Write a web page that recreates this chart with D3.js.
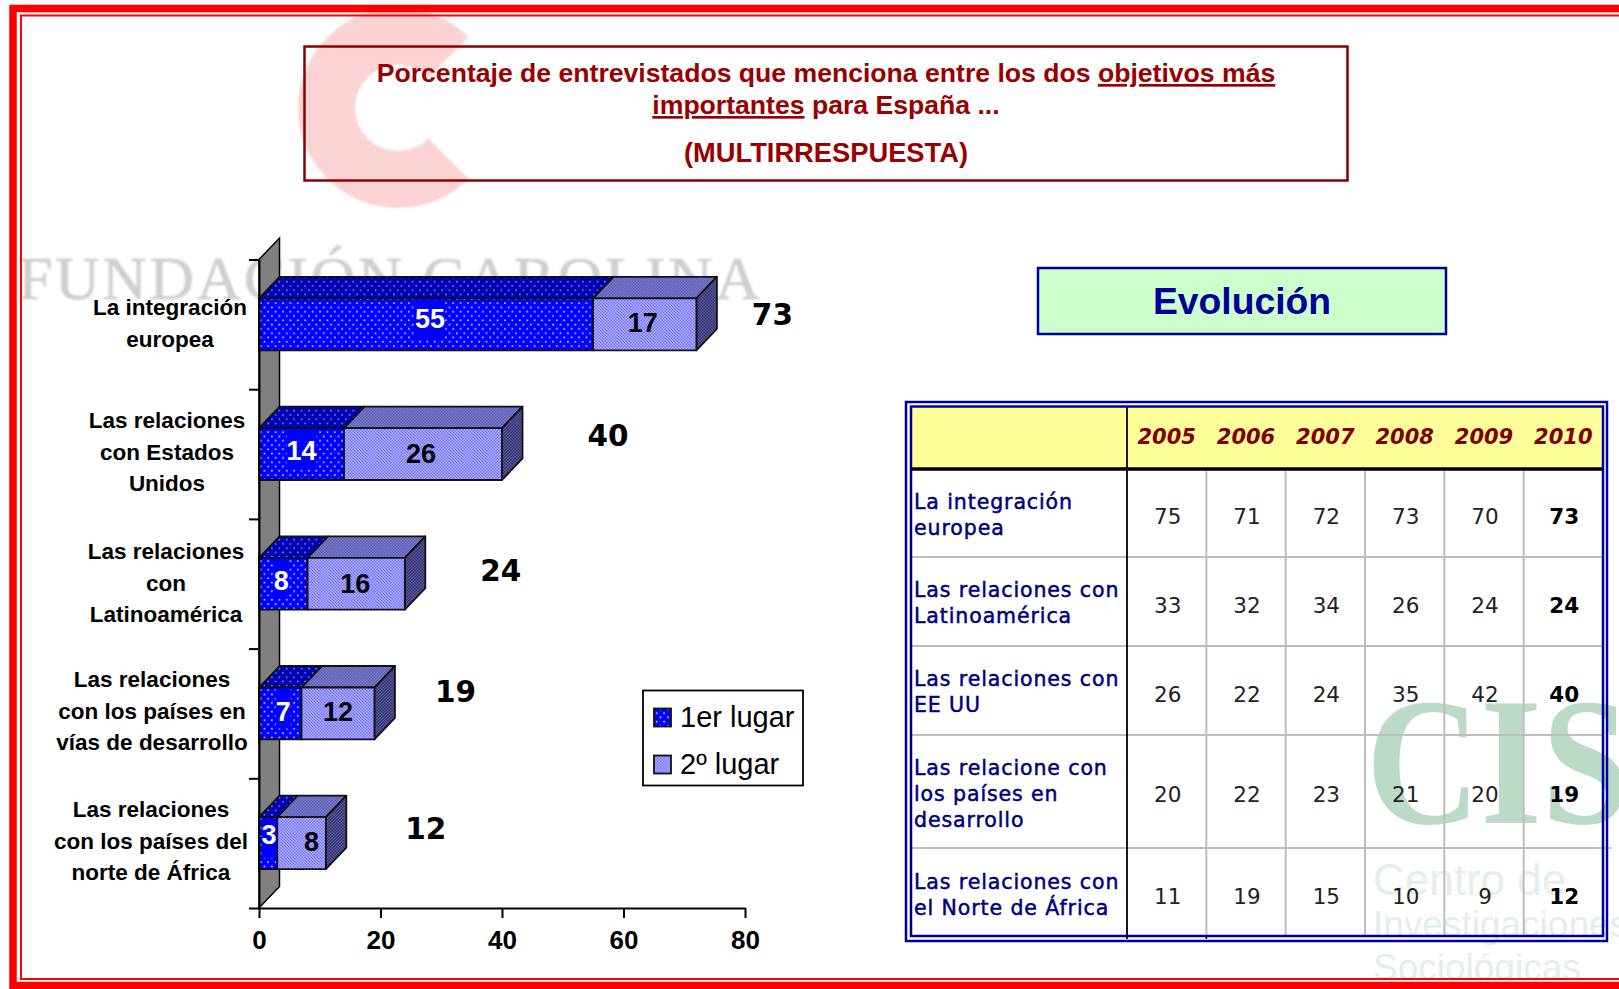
<!DOCTYPE html>
<html lang="es">
<head>
<meta charset="utf-8">
<title>Objetivos más importantes para España</title>
<script src="https://cdnjs.cloudflare.com/ajax/libs/d3/7.8.5/d3.min.js"></script>
<style>
  html, body { margin: 0; padding: 0; background: #fff; overflow: hidden; }
  svg { display: block; }
  text { font-family: "Liberation Sans", Arial, sans-serif; }
  .verdana { font-family: "DejaVu Sans", Verdana, sans-serif; }
</style>
</head>
<body>
<svg id="chart" width="1619" height="989"></svg>
<script>
// chart data
const categories = [
  ['La integración', 'europea'],
  ['Las relaciones', 'con Estados', 'Unidos'],
  ['Las relaciones', 'con', 'Latinoamérica'],
  ['Las relaciones', 'con los países en', 'vías de desarrollo'],
  ['Las relaciones', 'con los países del', 'norte de África']
];
const primero = [55, 14, 8, 7, 3];
const segundo = [17, 26, 16, 12, 8];
const totales = [73, 40, 24, 19, 12];
const seriesNames = ['1er lugar', '2º lugar'];
const xTicks = [0, 20, 40, 60, 80];

// table data
const years = [2005, 2006, 2007, 2008, 2009, 2010];
const tableLabels = [
  ['La integración', 'europea'],
  ['Las relaciones con', 'Latinoamérica'],
  ['Las relaciones con', 'EE UU'],
  ['Las relacione con', 'los países en', 'desarrollo'],
  ['Las relaciones con', 'el Norte de África']
];
const tableValues = [
  [75, 71, 72, 73, 70, 73],
  [33, 32, 34, 26, 24, 24],
  [26, 22, 24, 35, 42, 40],
  [20, 22, 23, 21, 20, 19],
  [11, 19, 15, 10, 9, 12]
];

const svg = d3.select('#chart');
const defs = svg.append('defs');

const dotPattern = (id, bg, dot, opacity) => {
  const p = defs.append('pattern').attr('id', id)
    .attr('width', 7.4).attr('height', 8.6).attr('patternUnits', 'userSpaceOnUse');
  p.append('rect').attr('width', 7.4).attr('height', 8.6).attr('fill', bg);
  [[1.8, 2.1], [5.5, 6.4]].forEach(([cx, cy]) => {
    p.append('rect').attr('x', cx - 0.8).attr('y', cy - 0.8).attr('width', 1.6).attr('height', 1.6)
      .attr('fill', dot).attr('opacity', opacity);
  });
};
const finePattern = (id, a, b) => {
  const p = defs.append('pattern').attr('id', id)
    .attr('width', 3).attr('height', 3).attr('patternUnits', 'userSpaceOnUse');
  p.append('rect').attr('width', 3).attr('height', 3).attr('fill', a);
  p.append('rect').attr('width', 1.5).attr('height', 1.5).attr('fill', b);
  p.append('rect').attr('x', 1.5).attr('y', 1.5).attr('width', 1.5).attr('height', 1.5).attr('fill', b);
};
dotPattern('p1front', '#0000ff', '#dcdcff', 1);
dotPattern('p1top', '#0000b4', '#9c9ce0', 0.9);
dotPattern('p1side', '#00007c', '#7a7ac0', 0.9);
finePattern('p2front', '#b4b4ff', '#7070ff');
finePattern('p2top', '#7c7cd0', '#5a5ab0');
finePattern('p2side', '#5a5aa0', '#30306c');

defs.append('filter').attr('id', 'soft')
  .append('feGaussianBlur').attr('stdDeviation', 0.8);

// watermarks, they sit under everything
const marks = svg.append('g');
marks.append('path')
  .attr('transform', 'translate(398,108)')
  .attr('filter', 'url(#soft)')
  .attr('d', d3.arc().innerRadius(43).outerRadius(100).startAngle(-Math.PI * 1.25).endAngle(Math.PI * 0.25)())
  .attr('fill', '#fbd3d3');
marks.append('text')
  .attr('x', 18).attr('y', 299)
  .attr('textLength', 742).attr('lengthAdjust', 'spacing')
  .attr('filter', 'url(#soft)')
  .style('font-family', '"Liberation Serif", serif')
  .style('font-size', '62px')
  .attr('fill', '#cfcfcf').attr('stroke', '#cfcfcf').attr('stroke-width', 0.6)
  .text('FUNDACIÓN CAROLINA');
marks.append('text')
  .attr('transform', 'translate(1366,823) scale(0.93,1.07)')
  .style('font-family', '"Liberation Serif", serif')
  .style('font-size', '170px').style('font-weight', 'bold')
  .attr('fill', '#bcdac8')
  .text('CIS');
marks.append('rect').attr('x', 1306).attr('y', 847).attr('width', 306).attr('height', 2).attr('fill', '#bfd6c8');
[['Centro de', 895, 44], ['Investigaciones', 937, 37], ['Sociológicas', 980, 37]].forEach(([t, y, s]) => {
  marks.append('text').attr('x', 1373).attr('y', y)
    .style('font-size', `${s}px`).attr('fill', '#e4efe8').text(t);
});

// frame
const frame = svg.append('g').attr('fill', 'none').attr('stroke', '#ff0000');
frame.append('path').attr('d', 'M1619,8.5H13V985.5H1619').attr('stroke-width', 7.5);
frame.append('path').attr('d', 'M1619,15.5H21V979H1619').attr('stroke-width', 2);

// title box
const titleColor = '#990000';
svg.append('rect').attr('x', 304.5).attr('y', 46.5).attr('width', 1043).attr('height', 134)
  .attr('fill', 'none').attr('stroke', '#8b0000').attr('stroke-width', 2.5);
const title = svg.append('g').attr('text-anchor', 'middle').attr('fill', titleColor)
  .style('font-size', '26.6px').style('font-weight', 'bold');
const line1 = title.append('text').attr('x', 826).attr('y', 82);
line1.append('tspan').text('Porcentaje de entrevistados que menciona entre los dos ');
line1.append('tspan').attr('text-decoration', 'underline').text('objetivos más');
const line2 = title.append('text').attr('x', 826).attr('y', 114);
line2.append('tspan').attr('text-decoration', 'underline').text('importantes');
line2.append('tspan').text(' para España ...');
title.append('text').attr('x', 826).attr('y', 162).style('font-size', '27.3px').text('(MULTIRRESPUESTA)');

// 3d bar chart
const x = d3.scaleLinear().domain([0, 80]).range([259, 745]);
const yTop = 259.5;
const yBottom = 908;
const y = d3.scaleBand().domain(d3.range(categories.length)).range([yTop, yBottom])
  .paddingInner(0.6).paddingOuter(0.3);
const depthX = 20.5;
const depthY = 21.5;
const chart = svg.append('g');

chart.append('path')
  .attr('d', `M259,${yBottom}V${yTop}L${259 + depthX},${yTop - depthY}V${yBottom - depthY}Z`)
  .attr('fill', '#808080').attr('stroke', '#000').attr('stroke-width', 1.5);

const bars = chart.selectAll('g.bar').data(categories.map((c, i) => i)).enter()
  .append('g').attr('class', 'bar')
  .attr('stroke', '#111').attr('stroke-width', 1.8).attr('stroke-linejoin', 'round');

const box = (g, from, to, i, name, withSide) => {
  const x0 = x(from);
  const x1 = x(to);
  const top = y(i);
  const bottom = top + y.bandwidth();
  g.append('path').attr('fill', `url(#${name}top)`)
    .attr('d', `M${x0},${top}L${x0 + depthX},${top - depthY}H${x1 + depthX}L${x1},${top}Z`);
  if (withSide) {
    g.append('path').attr('fill', `url(#${name}side)`)
      .attr('d', `M${x1},${top}L${x1 + depthX},${top - depthY}V${bottom - depthY}L${x1},${bottom}Z`);
  }
  g.append('rect').attr('fill', `url(#${name}front)`)
    .attr('x', x0).attr('y', top).attr('width', x1 - x0).attr('height', bottom - top);
};
bars.each(function (i) {
  const g = d3.select(this);
  box(g, 0, primero[i], i, 'p1', false);
  box(g, primero[i], primero[i] + segundo[i], i, 'p2', true);
});

// value labels, nudged a bit off centre like the original
const firstNudge = [[4, -6], [0, -4], [-2, -3], [3, -2], [1, -9]];
const secondNudge = [[-2, -2], [-2, -1], [-1, 0], [0, -2], [10, -2]];
const labels = chart.append('g').attr('text-anchor', 'middle')
  .style('font-size', '27px').style('font-weight', 'bold');
primero.forEach((v, i) => {
  const cx = x(v / 2) + firstNudge[i][0];
  const cy = y(i) + y.bandwidth() / 2 + firstNudge[i][1];
  const w = String(v).length * 15;
  labels.append('rect').attr('x', cx - w / 2).attr('y', y(i) + 1).attr('width', w).attr('height', 40)
    .attr('fill', '#0000ff');
  labels.append('text').attr('x', cx).attr('y', cy).attr('dy', '0.36em').attr('fill', '#fff').text(v);
});
segundo.forEach((v, i) => {
  labels.append('text')
    .attr('x', x(primero[i] + v / 2) + secondNudge[i][0])
    .attr('y', y(i) + y.bandwidth() / 2 + secondNudge[i][1])
    .attr('dy', '0.36em').attr('fill', '#000').text(v);
});

// totals float to the right, hand placed in the original
const totalDx = [76, 106, 96, 81, 100];
const totalDy = [-10, -19, -13, -22, -15];
chart.append('g').attr('text-anchor', 'middle')
  .selectAll('text').data(totales).enter().append('text')
  .attr('class', 'verdana')
  .attr('x', (d, i) => x(primero[i] + segundo[i]) + totalDx[i])
  .attr('y', (d, i) => y(i) + y.bandwidth() / 2 + totalDy[i])
  .attr('dy', '0.36em')
  .style('font-size', '29.5px').style('font-weight', 'bold')
  .text(d => d);

// axes
const xAxis = chart.append('g').attr('transform', `translate(0,${yBottom})`)
  .call(d3.axisBottom(x).tickValues(xTicks).tickSize(10).tickSizeOuter(0).tickPadding(13));
xAxis.selectAll('text').style('font-size', '26px').style('font-weight', 'bold')
  .style('font-family', '"Liberation Sans", sans-serif').attr('fill', '#000');
xAxis.selectAll('line, path').attr('stroke', '#000').attr('stroke-width', 2);

const yTicks = d3.scaleLinear().domain([0, categories.length]).range([yTop, yBottom]);
const yAxis = chart.append('g').attr('transform', 'translate(259,0)')
  .call(d3.axisLeft(yTicks).ticks(categories.length).tickFormat('').tickSize(10).tickSizeOuter(0));
yAxis.selectAll('line, path').attr('stroke', '#000').attr('stroke-width', 2);

// category labels
const labelCx = [170, 167, 166, 152, 151];
const labelTop = [315, 428, 559, 687, 817];
chart.selectAll('text.cat').data(categories).enter().append('text')
  .attr('class', 'cat').attr('text-anchor', 'middle')
  .style('font-size', '22.5px').style('font-weight', 'bold')
  .each(function (lines, i) {
    d3.select(this).selectAll('tspan').data(lines).enter().append('tspan')
      .attr('x', labelCx[i]).attr('y', (d, k) => labelTop[i] + k * 31.5)
      .text(d => d);
  });

// legend
const legend = chart.append('g').attr('transform', 'translate(0,1.5)');
legend.append('rect').attr('x', 643).attr('y', 689).attr('width', 160).attr('height', 95)
  .attr('fill', '#fff').attr('stroke', '#000').attr('stroke-width', 1.8);
seriesNames.forEach((name, i) => {
  const ly = 707 + i * 47;
  legend.append('rect').attr('x', 654).attr('y', ly).attr('width', 17).attr('height', 18)
    .attr('fill', `url(#p${i + 1}front)`).attr('stroke', '#111').attr('stroke-width', 1.8);
  legend.append('text').attr('x', 680).attr('y', ly + 18)
    .style('font-size', '29px').attr('fill', '#000').text(name);
});

// evolution header
svg.append('rect').attr('x', 1038).attr('y', 268).attr('width', 408).attr('height', 66)
  .attr('fill', '#ccffcc').attr('stroke', '#000099').attr('stroke-width', 2.5);
svg.append('text').attr('x', 1242).attr('y', 314).attr('text-anchor', 'middle')
  .style('font-size', '37.3px').style('font-weight', 'bold').attr('fill', '#000099').text('Evolución');

// table
const table = svg.append('g').attr('class', 'table');
const xCol = d3.scaleBand().domain(years).range([1127, 1603]);
const rowEdges = [470, 557, 646, 735, 848, 936];
const grey = '#bdbdbd';

table.append('rect').attr('x', 912).attr('y', 407).attr('width', 690).attr('height', 61).attr('fill', '#ffff99');
years.forEach((yr, j) => {
  if (j > 0) {
    table.append('line').attr('x1', xCol(yr)).attr('x2', xCol(yr)).attr('y1', 470).attr('y2', 936)
      .attr('stroke', grey).attr('stroke-width', 2);
  }
});
rowEdges.slice(1, -1).forEach(e => {
  table.append('line').attr('x1', 912).attr('x2', 1602).attr('y1', e).attr('y2', e)
    .attr('stroke', grey).attr('stroke-width', 2);
});
table.append('line').attr('x1', 1127).attr('x2', 1127).attr('y1', 407).attr('y2', 939)
  .attr('stroke', '#000').attr('stroke-width', 1.8);
table.append('line').attr('x1', 912).attr('x2', 1603).attr('y1', 469).attr('y2', 469)
  .attr('stroke', '#000').attr('stroke-width', 3.5);

table.append('rect').attr('x', 906).attr('y', 402).attr('width', 701).attr('height', 539)
  .attr('fill', 'none').attr('stroke', '#000099').attr('stroke-width', 2.5);
table.append('rect').attr('x', 911).attr('y', 406.5).attr('width', 692).attr('height', 529.5)
  .attr('fill', 'none').attr('stroke', '#000099').attr('stroke-width', 2.5);
table.append('line').attr('x1', xCol(2006)).attr('x2', xCol(2006)).attr('y1', 937).attr('y2', 939)
  .attr('stroke', '#000').attr('stroke-width', 1.5);

table.selectAll('text.year').data(years).enter().append('text')
  .attr('class', 'year verdana').attr('text-anchor', 'middle')
  .attr('x', d => xCol(d) + xCol.bandwidth() / 2).attr('y', 444)
  .style('font-size', '21px').style('font-weight', 'bold').style('font-style', 'italic')
  .attr('fill', '#800000').text(d => d);

const rowMid = [516.5, 605, 694, 794, 896];
const labelShift = [-1.5, -2, -2, 0, -1];
tableValues.forEach((row, i) => {
  row.forEach((v, j) => {
    table.append('text').attr('class', 'verdana').attr('text-anchor', 'middle')
      .attr('x', xCol(years[j]) + xCol.bandwidth() / 2 + 1).attr('y', rowMid[i])
      .attr('dy', '0.36em')
      .style('font-size', '21.5px').style('font-weight', j === 5 ? 'bold' : 'normal')
      .attr('fill', j === 5 ? '#000' : '#222').text(v);
  });
  const lines = tableLabels[i];
  const t = table.append('text').attr('class', 'verdana').attr('fill', '#000080')
    .style('font-size', '20.5px').style('letter-spacing', '0.9px')
    .attr('stroke', '#000080').attr('stroke-width', 0.5);
  lines.forEach((l, k) => {
    t.append('tspan').attr('x', 914)
      .attr('y', rowMid[i] + labelShift[i] + (k - (lines.length - 1) / 2) * 26 + 7).text(l);
  });
});
</script>
</body>
</html>
